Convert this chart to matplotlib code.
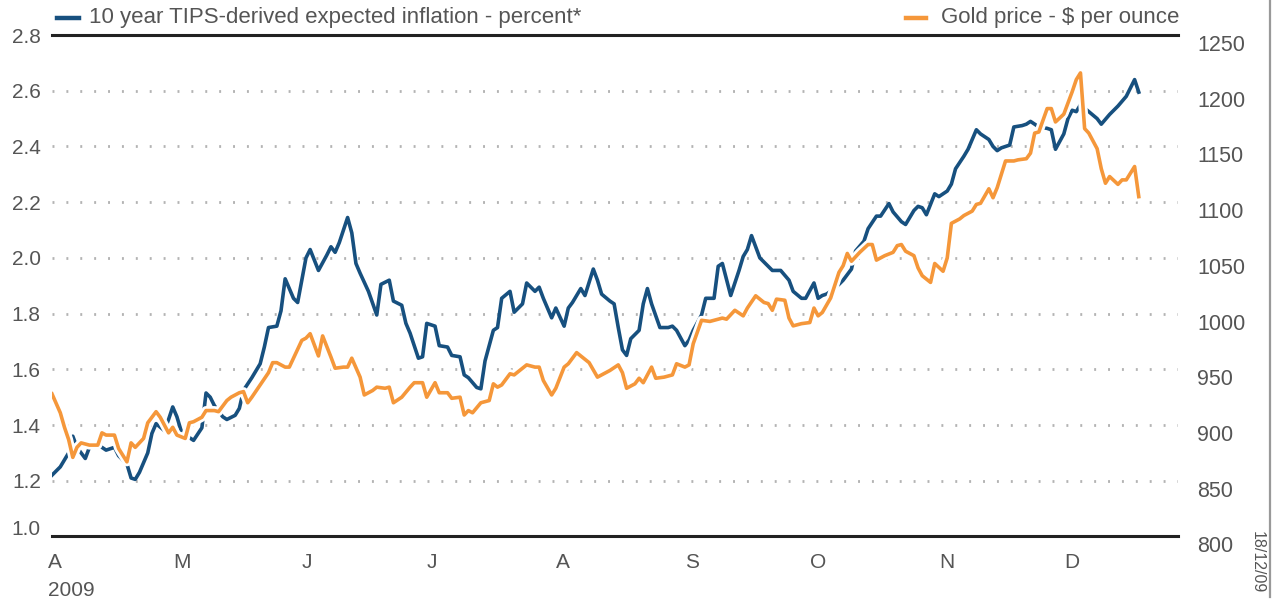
import matplotlib
matplotlib.use("Agg")
import matplotlib.pyplot as plt
import matplotlib.patheffects as pe
from matplotlib.lines import Line2D
from matplotlib.transforms import ScaledTranslation

plt.rcParams['font.family'] = ['Liberation Sans', 'DejaVu Sans']

# x values are days since 1 April 2009
tips_days = [0, 2, 4, 5, 6, 8, 9, 10, 12, 13,
             15, 16, 18, 19, 20, 21, 23, 24, 25, 27,
             28, 29, 30, 31, 33, 34, 36, 37, 38, 39,
             41, 42, 44, 45, 46, 48, 50, 51, 52, 54,
             55, 56, 58, 59, 61, 62, 64, 66, 67, 68,
             69, 71, 72, 73, 74, 76, 78, 79, 81, 82,
             84, 85, 86, 88, 89, 90, 92, 93, 95, 96,
             98, 99, 100, 102, 103, 104, 106, 107, 108, 110,
             111, 113, 114, 116, 117, 118, 120, 121, 123, 124,
             125, 127, 128, 130, 131, 132, 134, 135, 136, 137,
             138, 139, 141, 142, 143, 144, 146, 148, 149, 150,
             152, 153, 154, 156, 157, 159, 160, 161, 163, 165,
             166, 167, 168, 170, 172, 173, 175, 177, 178, 180,
             181, 183, 184, 185, 186, 187, 189, 190, 192, 193,
             195, 196, 198, 199, 201, 202, 204, 205, 207, 208,
             209, 210, 212, 213, 215, 216, 217, 219, 220, 222,
             223, 225, 226, 227, 228, 230, 231, 233, 234, 235,
             237, 239, 240, 241, 243, 244, 245, 246, 247, 249,
             251, 252, 254, 256, 258, 260, 261]
tips_pct = [1.22, 1.25, 1.30, 1.36, 1.32, 1.28, 1.32, 1.335, 1.32, 1.31,
            1.32, 1.29, 1.26, 1.21, 1.205, 1.23, 1.30, 1.37, 1.405, 1.38,
            1.42, 1.465, 1.43, 1.38, 1.355, 1.345, 1.39, 1.515, 1.50, 1.47,
            1.43, 1.42, 1.435, 1.46, 1.525, 1.57, 1.62, 1.68, 1.75, 1.755,
            1.81, 1.925, 1.855, 1.84, 2.00, 2.03, 1.955, 2.01, 2.04, 2.02,
            2.055, 2.145, 2.09, 1.98, 1.945, 1.88, 1.795, 1.905, 1.92, 1.845,
            1.83, 1.765, 1.73, 1.64, 1.645, 1.765, 1.755, 1.685, 1.68, 1.65,
            1.645, 1.58, 1.57, 1.535, 1.53, 1.63, 1.74, 1.75, 1.855, 1.88,
            1.805, 1.835, 1.91, 1.88, 1.895, 1.855, 1.785, 1.82, 1.755, 1.82,
            1.84, 1.89, 1.865, 1.96, 1.92, 1.87, 1.845, 1.835, 1.75, 1.67,
            1.65, 1.71, 1.74, 1.835, 1.89, 1.835, 1.75, 1.75, 1.755, 1.74,
            1.685, 1.705, 1.74, 1.795, 1.855, 1.855, 1.97, 1.98, 1.865, 1.955,
            2.005, 2.03, 2.08, 2.00, 1.97, 1.955, 1.955, 1.92, 1.88, 1.855,
            1.855, 1.91, 1.855, 1.865, 1.87, 1.88, 1.905, 1.92, 1.96, 2.025,
            2.06, 2.105, 2.15, 2.15, 2.195, 2.165, 2.13, 2.12, 2.17, 2.185,
            2.18, 2.155, 2.23, 2.22, 2.24, 2.265, 2.32, 2.365, 2.39, 2.46,
            2.445, 2.425, 2.40, 2.385, 2.395, 2.405, 2.47, 2.475, 2.48, 2.49,
            2.47, 2.465, 2.46, 2.39, 2.445, 2.50, 2.53, 2.525, 2.55, 2.525,
            2.50, 2.48, 2.515, 2.545, 2.58, 2.64, 2.595]

gold_days = [0, 2, 3, 4, 5, 6, 7, 9, 11, 12,
             13, 15, 16, 18, 19, 20, 22, 23, 25, 26,
             28, 29, 30, 32, 33, 34, 36, 37, 39, 40,
             42, 43, 45, 46, 47, 48, 50, 52, 53, 54,
             56, 57, 58, 60, 61, 62, 64, 65, 67, 68,
             70, 71, 72, 74, 75, 77, 78, 80, 81, 82,
             84, 86, 87, 89, 90, 92, 93, 95, 96, 98,
             99, 100, 101, 103, 105, 106, 107, 108, 110, 111,
             113, 114, 116, 117, 118, 120, 121, 123, 124, 126,
             127, 129, 131, 132, 134, 136, 137, 138, 140, 141,
             142, 144, 145, 147, 149, 150, 152, 153, 154, 156,
             158, 159, 161, 162, 164, 166, 167, 169, 171, 172,
             173, 174, 176, 177, 178, 180, 182, 183, 184, 185,
             187, 189, 190, 191, 192, 194, 196, 197, 198, 200,
             202, 203, 204, 205, 207, 208, 209, 211, 212, 214,
             215, 216, 218, 219, 221, 222, 223, 225, 226, 227,
             229, 231, 232, 234, 235, 236, 237, 239, 240, 241,
             243, 245, 246, 247, 248, 249, 251, 252, 253, 254,
             256, 257, 258, 260, 261]
gold_usd = [928, 911, 898, 887, 871, 880, 884, 882, 882, 893,
            891, 891, 879, 867, 884, 880, 888, 902, 912, 907,
            893, 898, 891, 888, 902, 903, 907, 913, 913, 912,
            922, 925, 929, 930, 920, 925, 936, 947, 956, 956,
            952, 952, 960, 976, 978, 982, 962, 980, 961, 951,
            952, 952, 960, 943, 927, 931, 934, 933, 934, 920,
            925, 934, 938, 938, 925, 938, 929, 929, 924, 925,
            909, 913, 911, 920, 922, 937, 934, 936, 946, 945,
            951, 954, 952, 952, 940, 927, 933, 952, 955, 965,
            962, 956, 943, 945, 949, 954, 947, 933, 937, 942,
            938, 952, 942, 943, 945, 955, 952, 954, 973, 994,
            993, 994, 996, 995, 1003, 998, 1005, 1016, 1010, 1009,
            1003, 1013, 1012, 996, 989, 991, 992, 1005, 998, 1001,
            1014, 1037, 1043, 1054, 1047, 1055, 1062, 1062, 1048, 1052,
            1055, 1061, 1062, 1056, 1052, 1041, 1034, 1028, 1045, 1038,
            1050, 1081, 1085, 1088, 1092, 1098, 1099, 1112, 1104, 1113,
            1137, 1137, 1138, 1139, 1144, 1162, 1163, 1184, 1184, 1172,
            1179, 1199, 1210, 1216, 1166, 1162, 1148, 1130, 1117, 1123,
            1116, 1120, 1120, 1132, 1105]

month_days = [0, 30, 61, 91, 122, 153, 183, 214, 244]
month_labels = ['A', 'M', 'J', 'J', 'A', 'S', 'O', 'N', 'D']
pct_ticks = [1.0, 1.2, 1.4, 1.6, 1.8, 2.0, 2.2, 2.4, 2.6, 2.8]
usd_ticks = [800, 850, 900, 950, 1000, 1050, 1100, 1150, 1200, 1250]

BLUE = '#17507f'
ORANGE = '#f5973a'
TXT = '#555555'

fig = plt.figure(figsize=(12.77, 6.03), dpi=100)
ax = fig.add_axes([0.0407, 0.1103, 0.8817, 0.8316])
ax2 = ax.twinx()

# dotted grid lines
for v in pct_ticks[1:-1]:
    ax.axhline(v, color='#b3b3b3', lw=2, ls=(0, (0.7, 4.3)), zorder=0)

ax.plot(tips_days, tips_pct, color=BLUE, lw=2.6, solid_joinstyle='round', zorder=3)
ax2.plot(gold_days, gold_usd, color=ORANGE, lw=2.6, solid_joinstyle='round', zorder=3,
         path_effects=[pe.Stroke(linewidth=6.5, foreground='white'), pe.Normal()])

ax.set_xlim(0, 270.4)
ax.set_ylim(1.0, 2.8)
ax2.set_ylim(800, 1250)

for s in ['left', 'right']:
    ax.spines[s].set_visible(False)
for s in ['top', 'bottom']:
    ax.spines[s].set_color('#222222')
    ax.spines[s].set_linewidth(2.2)
for s in ax2.spines.values():
    s.set_visible(False)

ax.set_yticks(pct_ticks)
ax.set_yticklabels(['%.1f' % v for v in pct_ticks])
ax.tick_params(axis='y', length=0, pad=8, labelsize=15, labelcolor=TXT)
ax2.set_yticks(usd_ticks)
ax2.set_yticklabels([str(v) for v in usd_ticks])
ax2.tick_params(axis='y', length=0, pad=14, labelsize=15.5, labelcolor=TXT)

ax.set_xticks(month_days)
ax.set_xticklabels(month_labels, ha='left')
ax.tick_params(axis='x', length=0, pad=12, labelsize=15, labelcolor=TXT)

# month letters start a touch left of the month boundary
left = ScaledTranslation(-0.04, 0, fig.dpi_scale_trans)
for lbl in ax.get_xticklabels():
    lbl.set_transform(lbl.get_transform() + left)

# right labels sit a little below their grid line, bottom left label above the axis
down = ScaledTranslation(0, -0.08, fig.dpi_scale_trans)
for lbl in ax2.get_yticklabels():
    lbl.set_transform(lbl.get_transform() + down)
up = ScaledTranslation(0, 0.085, fig.dpi_scale_trans)
lbl0 = ax.get_yticklabels()[0]
lbl0.set_transform(lbl0.get_transform() + up)

fig.text(48 / 1277, 1 - 590 / 603, '2009', fontsize=15, color=TXT, ha='left', va='center')

# legend row above the chart
ly = 1 - 18 / 603
fig.add_artist(Line2D([57 / 1277, 79 / 1277], [ly, ly], color=BLUE, lw=3.2))
fig.text(89 / 1277, ly, '10 year TIPS-derived expected inflation - percent*',
         fontsize=16, color=TXT, ha='left', va='center')
fig.add_artist(Line2D([906 / 1277, 926 / 1277], [ly, ly], color=ORANGE, lw=3.2))
fig.text(1179 / 1277, ly, 'Gold price - $ per ounce',
         fontsize=16, color=TXT, ha='right', va='center')

# date stamp and frame edge on the right
fig.text(1257 / 1277, 1 - 562 / 603, '18/12/09', fontsize=11.5, color=TXT,
         rotation=-90, ha='center', va='center')
fig.add_artist(Line2D([1270 / 1277, 1270 / 1277], [1 - 597 / 603, 1.0], color='#999999', lw=1.6))

fig.savefig('out.png', dpi=100, facecolor='white')
